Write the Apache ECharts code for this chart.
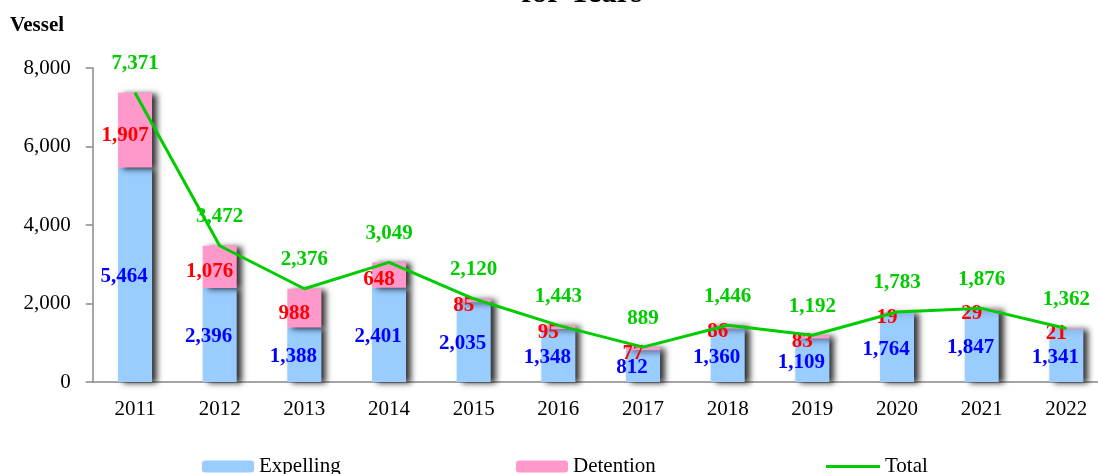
<!DOCTYPE html>
<html>
<head>
<meta charset="utf-8">
<script src="https://cdn.jsdelivr.net/npm/echarts@6/dist/echarts.min.js"></script>
<style>
html,body{margin:0;padding:0;background:#fff;}
#chart{width:1098px;height:474px;}
</style>
</head>
<body>
<div id="chart"></div>
<script>
const years = ['2011','2012','2013','2014','2015','2016','2017','2018','2019','2020','2021','2022'];
const expelling = [5464, 2396, 1388, 2401, 2035, 1348, 812, 1360, 1109, 1764, 1847, 1341];
const detention = [1907, 1076, 988, 648, 85, 95, 77, 86, 83, 19, 29, 21];
const total = [7371, 3472, 2376, 3049, 2120, 1443, 889, 1446, 1192, 1783, 1876, 1362];
const yTicks = [0, 2000, 4000, 6000, 8000];

const SERIF = '"Times New Roman","Liberation Serif",serif';
const fmt = v => Number(v).toLocaleString('en-US');
const shadow = {shadowColor:'rgba(0,0,0,0.8)', shadowBlur:6, shadowOffsetX:5, shadowOffsetY:1};

const chart = echarts.init(document.getElementById('chart'), null, {renderer:'canvas'});
const legendText = {fontFamily:SERIF, fontSize:21, color:'#000'};
chart.setOption({
  animation:false,
  backgroundColor:'#fff',
  graphic:[
    {type:'text', left:10, top:15, style:{text:'Vessel', font:'bold 21px '+SERIF, fill:'#000'}},
    {type:'text', x:582, y:9, style:{text:'for Years', font:'bold 31px '+SERIF, fill:'#000', align:'center', verticalAlign:'bottom'}}
  ],
  legend:[
    {left:202, top:456, padding:0, itemWidth:52, itemHeight:12, itemGap:4, textStyle:legendText, data:['Expelling'], selectedMode:false},
    {left:516, top:456, padding:0, itemWidth:52, itemHeight:12, itemGap:4, textStyle:legendText, data:['Detention'], selectedMode:false},
    {left:826, top:456, padding:0, itemWidth:54, itemHeight:3, itemGap:4, textStyle:legendText, data:[{name:'Total', icon:'rect'}], selectedMode:false}
  ],
  grid:{left:92.7, top:68, width:1016, height:314, containLabel:false, outerBoundsMode:'none'},
  xAxis:{
    type:'category', data:years, boundaryGap:true,
    axisLine:{lineStyle:{color:'#888', width:1.5}},
    axisTick:{alignWithLabel:false, length:6, lineStyle:{color:'#888', width:1.5}},
    axisLabel:{fontFamily:SERIF, fontSize:21, color:'#000', margin:17}
  },
  yAxis:{
    type:'value', min:yTicks[0], max:yTicks[yTicks.length-1], interval:yTicks[1]-yTicks[0],
    axisLine:{show:true, lineStyle:{color:'#888', width:1.5}},
    axisTick:{show:true, length:7, lineStyle:{color:'#888', width:1.5}},
    splitLine:{show:false},
    axisLabel:{fontFamily:SERIF, fontSize:21, color:'#000', margin:22, formatter:fmt}
  },
  series:[
    {
      name:'Expelling', type:'bar', stack:'s', data:expelling, barWidth:34,
      itemStyle:Object.assign({color:'#99CCFF'}, shadow),
      label:{show:true, position:'inside', offset:[-11,2], formatter:p=>fmt(p.value),
        fontFamily:SERIF, fontWeight:'bold', fontSize:21, color:'#0000FF'}
    },
    {
      name:'Detention', type:'bar', stack:'s', data:detention, barWidth:34,
      itemStyle:Object.assign({color:'#FF99CC'}, shadow),
      label:{show:true, position:'inside', offset:[-10,5], formatter:p=>fmt(p.value),
        fontFamily:SERIF, fontWeight:'bold', fontSize:21, color:'#FF0000'}
    },
    {
      name:'Total', type:'line', data:total, symbol:'circle', symbolSize:1, showSymbol:true,
      lineStyle:{color:'#00CC00', width:3}, itemStyle:{color:'#00CC00'},
      label:{show:true, position:'top', distance:18, formatter:p=>fmt(p.value),
        fontFamily:SERIF, fontWeight:'bold', fontSize:21, color:'#00CC00'},
      z:5
    }
  ]
});
</script>
</body>
</html>
